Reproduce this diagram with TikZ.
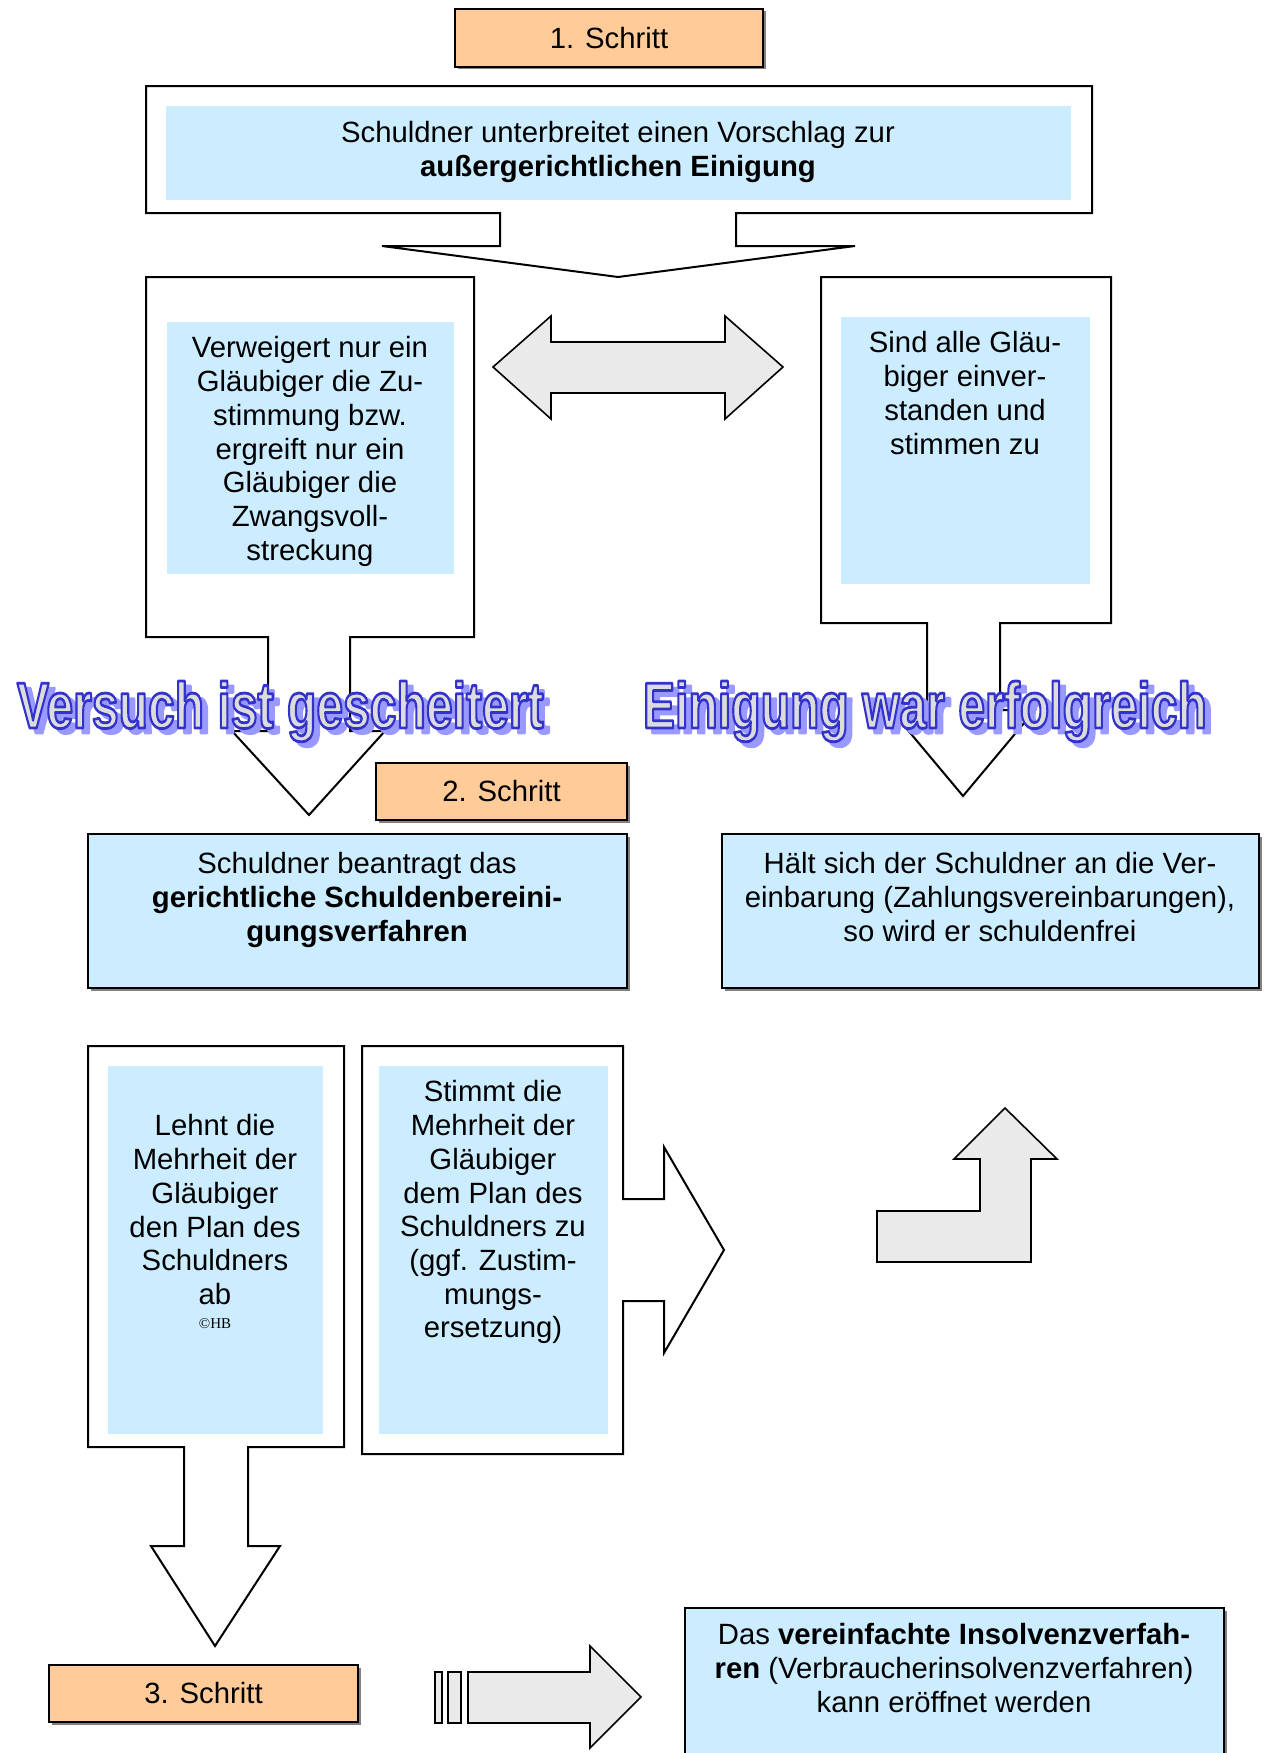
\documentclass[tikz,border=0pt]{standalone}
\usepackage{fontspec}
\usepackage{graphicx}
\setmainfont{Liberation Sans}
\newfontfamily\markfont{Liberation Serif}
\usetikzlibrary{shadows}

\definecolor{stepfill}{HTML}{FFCC99}
\definecolor{infofill}{HTML}{CCECFF}
\definecolor{arrowfill}{HTML}{EAEAEA}
\definecolor{artshadow}{HTML}{9999FF}
\definecolor{artfill}{HTML}{DCDCDC}

\tikzset{
  every node/.style={inner sep=0pt, outer sep=0pt},
  bodyfont/.style={font=\fontsize{29.3}{33.7}\selectfont},
  body/.style={bodyfont, align=center, anchor=north},
  boxshadow/.style={drop shadow={shadow xshift=2.5pt, shadow yshift=-2.5pt, opacity=0.7, fill=black!70}},
  stepbox/.style={bodyfont, draw=black, line width=2pt, fill=stepfill, boxshadow},
  infobox/.style={draw=black, line width=2pt, fill=infofill, boxshadow},
  calloutbox/.style={draw=black, line width=2pt, fill=white},
  panel/.style={fill=infofill},
  blockarrow/.style={draw=black, line width=1.6pt, fill=arrowfill},
  arttext/.style={font=\fontsize{65}{70}\selectfont\bfseries, anchor=base west},
}

% Glyphs filled with the current colour and stroked with the given RGB outline
\newcommand\strokedtext[2]{%
  \special{pdf:literal direct #1 RG 2.8 w 1 j 2 Tr}#2\special{pdf:literal direct 0 Tr}}

% Outlined headline with an offset shadow: #1 name, #2 position, #3 text
\newcommand\wordart[3]{%
  \node[arttext, text=artshadow, xshift=6pt, yshift=-5pt] (#1-shadow) at (#2)
    {\scalebox{0.74}[1]{\strokedtext{0.6 0.6 1}{#3}}};
  \node[arttext, text=artfill] (#1) at (#2)
    {\scalebox{0.74}[1]{\strokedtext{0.2 0.2 0.8}{#3}}};
}

\begin{document}
\begin{tikzpicture}[x=1pt, y=-1pt, line join=miter]
\useasboundingbox (0,0) rectangle (1265,1753);
\clip (0,0) rectangle (1265,1753);

% ---------- Step 1 ----------
\node[stepbox, minimum width=308pt, minimum height=58pt] (step1) at (609,38) {1. Schritt};

\draw[calloutbox] (146,86) -- (1092,86) -- (1092,213) -- (736,213) -- (736,246)
  -- (855,246) -- (618,277) -- (382,246) -- (500,246) -- (500,213) -- (146,213) -- cycle;
\fill[panel] (166,106) rectangle (1071,200);
\node[body] (proposal) at (618,121.7)
  {Schuldner unterbreitet einen Vorschlag zur\\\textbf{außergerichtlichen Einigung}};

% left branch: refusal
\draw[calloutbox] (146,277) -- (474,277) -- (474,637) -- (350,637) -- (350,731)
  -- (385,731) -- (309,815) -- (232,731) -- (268,731) -- (268,637) -- (146,637) -- cycle;
\fill[panel] (167,322) rectangle (454,574);
\node[body] (refusal) at (310,336.7)
  {Verweigert nur ein\\Gläubiger die Zu-\\stimmung bzw.\\ergreift nur ein\\Gläubiger die\\Zwangsvoll-\\streckung};

% right branch: agreement
\draw[calloutbox] (821,277) -- (1111,277) -- (1111,623) -- (1000,623) -- (1000,710)
  -- (1035,710) -- (963,796) -- (891,710) -- (927,710) -- (927,623) -- (821,623) -- cycle;
\fill[panel] (841,317) rectangle (1090,584);
\node[body] (consent) at (965,331.7)
  {Sind alle Gläu-\\biger einver-\\standen und\\stimmen zu};

% two-way arrow between the branches
\draw[blockarrow] (493,367) -- (551,316) -- (551,342) -- (725,342) -- (725,316)
  -- (783,367) -- (725,419) -- (725,393) -- (551,393) -- (551,419) -- cycle;

% headlines
\wordart{failed}{17,728}{Versuch ist gescheitert}
\wordart{success}{643,728}{Einigung war erfolgreich}

% ---------- Step 2 ----------
\node[stepbox, minimum width=251pt, minimum height=57pt] (step2) at (501.5,791.5) {2. Schritt};

\path[infobox] (88,834) rectangle (627,988);
\node[body] (court) at (357,852.7)
  {Schuldner beantragt das\\\textbf{gerichtliche Schuldenbereini-}\\\textbf{gungsverfahren}};

\path[infobox] (722,834) rectangle (1259,988);
\node[body] (debtfree) at (990,852.7)
  {Hält sich der Schuldner an die Ver-\\einbarung (Zahlungsvereinbarungen),\\so wird er schuldenfrei};

% majority rejects
\draw[calloutbox] (88,1046) -- (344,1046) -- (344,1447) -- (248,1447) -- (248,1546)
  -- (280,1546) -- (215,1646) -- (151,1546) -- (184,1546) -- (184,1447) -- (88,1447) -- cycle;
\fill[panel] (108,1066) rectangle (323,1434);
\node[body] (reject) at (215,1114.7)
  {Lehnt die\\Mehrheit der\\Gläubiger\\den Plan des\\Schuldners\\ab};
\node[font=\markfont\fontsize{15}{18}\selectfont, anchor=base] (mark) at (215,1328) {©HB};

% majority accepts
\draw[calloutbox] (362,1046) -- (623,1046) -- (623,1199) -- (664,1199) -- (664,1147)
  -- (724,1250) -- (664,1353) -- (664,1301) -- (623,1301) -- (623,1454) -- (362,1454) -- cycle;
\fill[panel] (379,1066) rectangle (608,1434);
\node[body] (accept) at (493,1080.7)
  {Stimmt die\\Mehrheit der\\Gläubiger\\dem Plan des\\Schuldners zu\\(ggf. Zustim-\\mungs-\\ersetzung)};

% bent arrow back up
\draw[blockarrow] (877,1211) -- (980,1211) -- (980,1159) -- (954,1159) -- (1005,1108)
  -- (1057,1159) -- (1031,1159) -- (1031,1262) -- (877,1262) -- cycle;

% ---------- Step 3 ----------
\node[stepbox, minimum width=309pt, minimum height=57pt] (step3) at (203.5,1693.5) {3. Schritt};

% striped arrow
\draw[blockarrow, line width=1.3pt] (435,1672) rectangle (442,1723);
\draw[blockarrow, line width=1.3pt] (448,1672) rectangle (461,1723);
\draw[blockarrow] (468,1672) -- (590,1672) -- (590,1646) -- (641,1697) -- (590,1748)
  -- (590,1723) -- (468,1723) -- cycle;

\path[infobox] (685,1608) rectangle (1224,1790);
\node[body] (insolvency) at (954,1623.7)
  {Das \textbf{vereinfachte Insolvenzverfah-}\\\textbf{ren} (Verbraucherinsolvenzverfahren)\\kann eröffnet werden};
\end{tikzpicture}
\end{document}
